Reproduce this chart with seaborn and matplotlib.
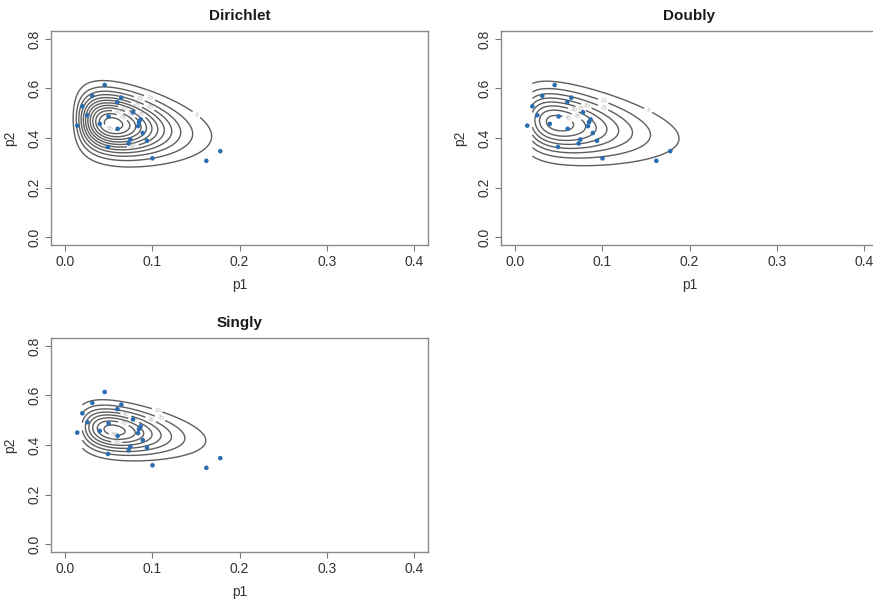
import numpy as np
import pandas as pd
import matplotlib
matplotlib.use("Agg")
import matplotlib.pyplot as plt
import seaborn as sns

# observed points (same in every panel)
p1 = [0.0455, 0.0313, 0.0199, 0.0256, 0.0141, 0.0399, 0.0500, 0.0600, 0.0646,
      0.0604, 0.0780, 0.0867, 0.0848, 0.0837, 0.0892, 0.0940, 0.0749, 0.0730,
      0.0493, 0.1003, 0.1620, 0.1780]
p2 = [0.614, 0.570, 0.528, 0.492, 0.450, 0.457, 0.487, 0.545, 0.563,
      0.437, 0.504, 0.475, 0.464, 0.448, 0.420, 0.389, 0.394, 0.378,
      0.364, 0.318, 0.308, 0.347]

# density surface parameters for each panel
titles = ["Dirichlet", "Doubly", "Singly"]
mode_p1 = [0.055, 0.050, 0.056]
shape_p1 = [2.7, 1.5, 2.6]
mode_p2 = [0.458, 0.460, 0.460]
sd_p2 = [0.076, 0.080, 0.058]
slope_p2 = [-0.45, -0.45, -0.40]
peak = [63, 43, 85]
level_step = [5, 5, 10]
level_max = [60, 40, 80]
p1_min = [0.0005, 0.02, 0.02]

xticks = [0.0, 0.1, 0.2, 0.3, 0.4]
yticks = [0.0, 0.2, 0.4, 0.6, 0.8]

sns.set_style("white")
plt.rcParams["font.family"] = ["Liberation Sans", "DejaVu Sans"]

fig = plt.figure(figsize=(8.73, 6.0), dpi=100)
W, H = 873.0, 600.0
boxes = [(51, 31), (501, 31), (51, 338)]
aw, ah = 377.0, 214.0

df = pd.DataFrame({"p1": p1, "p2": p2})

for i, (lx, ty) in enumerate(boxes):
    ax = fig.add_axes([lx / W, (H - ty - ah) / H, aw / W, ah / H])
    g1 = np.linspace(p1_min[i], 0.3, 400)
    g2 = np.linspace(0.15, 0.8, 400)
    P1, P2 = np.meshgrid(g1, g2)
    t = P1 / mode_p1[i]
    f1 = np.exp(shape_p1[i] * (np.log(t) - t + 1))
    z = (P2 - mode_p2[i] - slope_p2[i] * (P1 - mode_p1[i])) / sd_p2[i]
    F = peak[i] * f1 * np.exp(-0.5 * z ** 2)
    levels = np.arange(level_step[i], level_max[i] + 0.1, level_step[i])
    cs = ax.contour(P1, P2, F, levels=levels, colors="#5e5e5e", linewidths=1.0)
    ax.clabel(cs, levels=levels, inline=True, fontsize=4.5, fmt="%d", colors="#b5b5b5")
    sns.scatterplot(data=df, x="p1", y="p2", ax=ax, color="#2c6cb0", s=11,
                    linewidth=0, edgecolor="none", zorder=5)
    ax.set_xlim(-0.016, 0.416)
    ax.set_ylim(-0.032, 0.832)
    ax.set_xticks(xticks)
    ax.set_xticklabels([f"{v:.1f}" for v in xticks])
    ax.set_yticks(yticks)
    ax.set_yticklabels([f"{v:.1f}" for v in yticks], rotation=90, va="center")
    ax.tick_params(direction="out", length=4, width=0.8, color="#777777",
                   labelsize=10, labelcolor="#333333", pad=3, bottom=True, left=True)
    for sp in ax.spines.values():
        sp.set_visible(True)
        sp.set_color("#8a8a8a")
        sp.set_linewidth(1.0)
    ax.set_xlabel("p1", fontsize=10, color="#333333", labelpad=7)
    ax.set_ylabel("p2", fontsize=10, color="#333333", labelpad=7)
    ax.set_title(titles[i], fontsize=11, fontweight="bold", color="#1a1a1a", pad=8)

fig.savefig("out.png", dpi=100)
